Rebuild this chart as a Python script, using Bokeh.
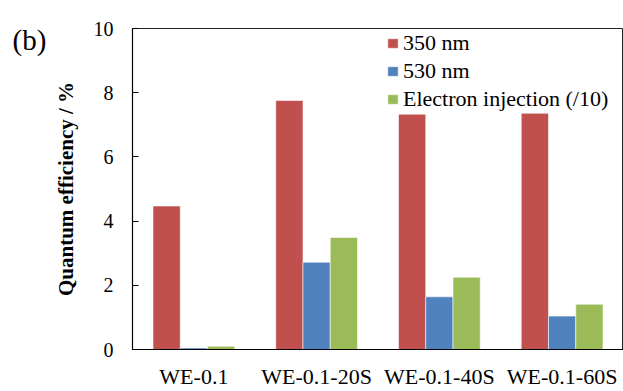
from bokeh.plotting import figure
from bokeh.layouts import row
from bokeh.models import (ColumnDataSource, Range1d, Legend, LegendItem,
                          FixedTicker)
from bokeh.core.properties import value
from bokeh.embed import file_html
from bokeh.resources import INLINE

categories = ["WE-0.1", "WE-0.1-20S", "WE-0.1-40S", "WE-0.1-60S"]
qe_350 = [4.47, 7.76, 7.33, 7.36]
qe_530 = [0.05, 2.72, 1.64, 1.04]
electron_injection = [0.10, 3.49, 2.25, 1.41]
series_names = ["350 nm", "530 nm", "Electron injection (/10)"]
colors = ["#C0504D", "#4F81BD", "#9BBB59"]
y_ticks = [0, 2, 4, 6, 8, 10]
panel_tag = ["(b)"]

FONT = "'Liberation Serif', 'Times New Roman', Times, serif"

TAG_W = 50
W, H = 623, 391

# narrow strip holding the panel tag
tagfig = figure(width=TAG_W, height=H, output_backend="svg", toolbar_location=None,
                title=None, x_range=Range1d(0, TAG_W), y_range=Range1d(H, 0),
                min_border=0, x_axis_location=None, y_axis_location=None)
tagfig.outline_line_color = None
tagfig.xgrid.visible = False
tagfig.ygrid.visible = False
tagfig.text(x=[12], y=[14], text=panel_tag, text_font=value(FONT),
            text_font_size="29px", text_color="black", text_align="left",
            text_baseline="middle")

p = figure(width=W - TAG_W, height=H, output_backend="svg", toolbar_location=None,
           title=None, x_range=Range1d(0, 4), y_range=Range1d(0, 10),
           min_border_left=129 - TAG_W, min_border_right=-3, min_border_top=28,
           min_border_bottom=39)
# frame box: top edge visible; right edge falls just outside the window
p.outline_line_color = "#222222"
p.outline_line_width = 1
p.xgrid.visible = False
p.ygrid.visible = False
p.background_fill_color = "white"
p.border_fill_color = "white"

centers = [i + 0.5 for i in range(len(categories))]
bw = 0.222
offsets = [-bw, 0.0, bw]
renderers = []
for vals, off, col in zip([qe_350, qe_530, electron_injection], offsets, colors):
    src = ColumnDataSource(dict(x=[c + off for c in centers], top=vals))
    r = p.vbar(x="x", top="top", bottom=0, width=bw, source=src,
               fill_color=col, line_color="white", line_width=0.8, line_alpha=0.7)
    renderers.append(r)

# x axis (bottom)
xa = p.below[0]
xa.ticker = FixedTicker(ticks=centers)
xa.major_label_overrides = {c: lab for c, lab in zip(centers, categories)}
xa.major_tick_line_color = None
xa.minor_tick_line_color = None
xa.major_tick_out = 0
xa.major_tick_in = 0
xa.major_label_standoff = 14
xa.major_label_text_font = FONT
xa.major_label_text_font_size = "22px"
xa.major_label_text_color = "black"
xa.axis_line_color = "black"
xa.axis_line_width = 1.2

# y axis
ya = p.left[0]
ya.ticker = FixedTicker(ticks=y_ticks)
ya.minor_tick_line_color = None
ya.major_tick_in = 6
ya.major_tick_out = 0
ya.major_tick_line_color = "black"
ya.major_label_standoff = 19
ya.major_label_text_font = FONT
ya.major_label_text_font_size = "20px"
ya.major_label_text_color = "black"
ya.axis_line_color = "black"
ya.axis_line_width = 1.2
ya.axis_label = "Quantum efficiency / %"
ya.axis_label_text_font = FONT
ya.axis_label_text_font_style = "bold"
ya.axis_label_text_font_size = "21px"
ya.axis_label_text_color = "black"
ya.axis_label_standoff = 13

legend = Legend(items=[LegendItem(label=n, renderers=[r]) for n, r in zip(series_names, renderers)],
                location=(254, 236), orientation="vertical",
                label_text_font=FONT, label_text_font_size="22px",
                label_text_color="black",
                glyph_width=13, glyph_height=12, label_height=28, spacing=0,
                label_standoff=4, padding=4, margin=0,
                border_line_color=None, background_fill_alpha=0)
p.add_layout(legend)

layout = row(tagfig, p, spacing=0)
open("out.html", "w").write(file_html(layout, INLINE))
